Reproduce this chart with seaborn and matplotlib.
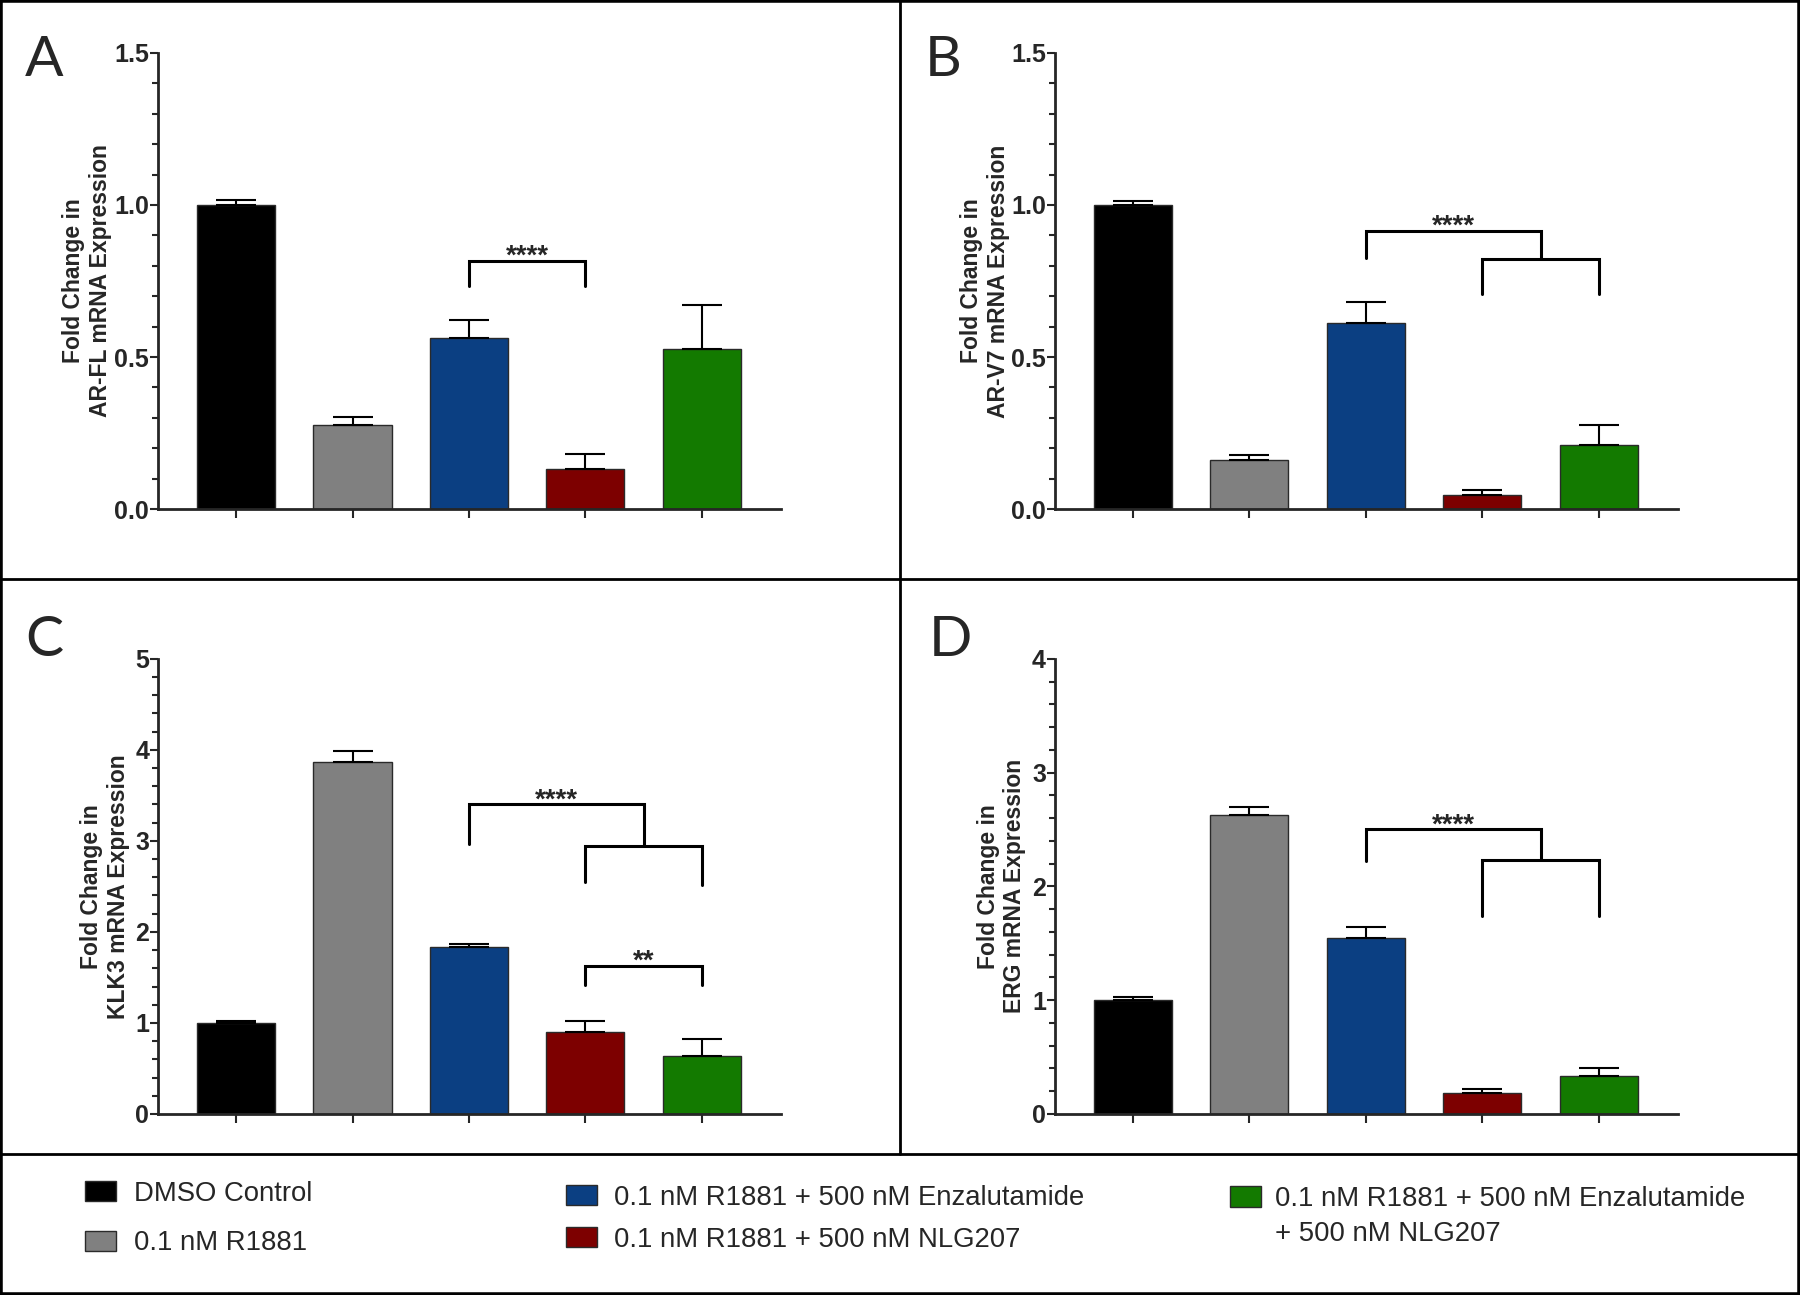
import numpy as np
import pandas as pd
import seaborn as sns
import matplotlib.pyplot as plt
from matplotlib.patches import Patch, Rectangle
from matplotlib.lines import Line2D
from matplotlib.ticker import MultipleLocator, FormatStrFormatter

sns.set_style("ticks")
plt.rcParams['font.family'] = ['Liberation Sans', 'DejaVu Sans']

groups = ["DMSO Control", "0.1 nM R1881", "0.1 nM R1881 + 500 nM Enzalutamide",
          "0.1 nM R1881 + 500 nM NLG207",
          "0.1 nM R1881 + 500 nM Enzalutamide\n+ 500 nM NLG207"]
colors = ["#000000", "#808080", "#0b3f82", "#7d0000", "#137a00"]

arfl_mean = [1.0, 0.275, 0.563, 0.131, 0.525]
arfl_sem = [0.016, 0.027, 0.060, 0.050, 0.145]
arv7_mean = [1.0, 0.160, 0.612, 0.045, 0.212]
arv7_sem = [0.013, 0.019, 0.068, 0.019, 0.064]
klk3_mean = [1.0, 3.87, 1.83, 0.905, 0.64]
klk3_sem = [0.025, 0.12, 0.04, 0.115, 0.18]
erg_mean = [1.0, 2.63, 1.55, 0.18, 0.33]
erg_sem = [0.025, 0.065, 0.09, 0.04, 0.07]

# brackets: (x1, x2, y, y_left_end, y_right_end, label)
arfl_sig = [(2, 3, 0.816, 0.733, 0.733, "****")]
arv7_sig = [(2, 3.5, 0.914, 0.827, 0.821, "****"), (3, 4, 0.821, 0.707, 0.707, "")]
klk3_sig = [(2, 3.5, 3.40, 2.96, 2.94, "****"), (3, 4, 2.94, 2.55, 2.51, ""),
            (3, 4, 1.63, 1.42, 1.42, "**")]
erg_sig = [(2, 3.5, 2.50, 2.22, 2.23, "****"), (3, 4, 2.23, 1.74, 1.74, "")]

panels = [
    ("A", "AR-FL", arfl_mean, arfl_sem, arfl_sig, 1.5, 0.5, 0.1, "%.1f"),
    ("B", "AR-V7", arv7_mean, arv7_sem, arv7_sig, 1.5, 0.5, 0.1, "%.1f"),
    ("C", "KLK3", klk3_mean, klk3_sem, klk3_sig, 5, 1, 0.2, "%d"),
    ("D", "ERG", erg_mean, erg_sem, erg_sig, 4, 1, 0.2, "%d"),
]
ax_pos = [[0.0878, 0.6069, 0.3461, 0.3522], [0.5861, 0.6069, 0.3461, 0.3522],
          [0.0878, 0.1398, 0.3461, 0.3515], [0.5861, 0.1398, 0.3461, 0.3515]]
letter_pos = [(0.014, 0.9413), (0.514, 0.9413), (0.014, 0.4934), (0.516, 0.4934)]
label_x = [-0.0745, -0.073, -0.045, -0.046]

fig = plt.figure(figsize=(18, 12.95), dpi=100)

for i, (letter, gene, mean, sem, sig, ymax, major, minor, fmt) in enumerate(panels):
    ax = fig.add_axes(ax_pos[i])
    df = pd.DataFrame({"group": groups, "value": mean})
    sns.barplot(data=df, x="group", y="value", hue="group", order=groups,
                hue_order=groups, palette=colors, saturation=1, width=0.67,
                edgecolor="#2a2a2a", linewidth=1.0, errorbar=None, legend=False, ax=ax)
    x = np.arange(len(mean))
    ax.errorbar(x, mean, yerr=[np.zeros(len(sem)), sem], fmt="none", ecolor="black",
                elinewidth=1.5, capsize=14.4, capthick=1.5, zorder=3)
    for (x1, x2, y, yl, yr, lab) in sig:
        ax.plot([x1, x1, x2, x2], [yl, y, y, yr], color="black", lw=2.2,
                solid_joinstyle="miter", clip_on=False)
        if lab:
            ax.annotate(lab, xy=((x1 + x2) / 2, y), xytext=(0, -2),
                        textcoords="offset points", ha="center", va="baseline",
                        fontsize=20, fontweight="bold")
    ax.set_xlim(-0.67, 4.68)
    ax.set_ylim(0, ymax)
    ax.yaxis.set_major_locator(MultipleLocator(major))
    ax.yaxis.set_minor_locator(MultipleLocator(minor))
    ax.yaxis.set_major_formatter(FormatStrFormatter(fmt))
    ax.set_xticks(x)
    ax.set_xticklabels([])
    ax.set_xlabel("")
    sns.despine(ax=ax)
    for s in ["left", "bottom"]:
        ax.spines[s].set_linewidth(2.0)
    ax.tick_params(axis="y", which="major", length=5.5, width=1.5, pad=1,
                   labelsize=18)
    ax.tick_params(axis="y", which="minor", length=4, width=1.5)
    ax.tick_params(axis="x", which="major", length=6.5, width=1.5)
    for t in ax.get_yticklabels():
        t.set_fontweight("bold")
    ax.set_ylabel("Fold Change in\n%s mRNA Expression" % gene, fontsize=16.5,
                  fontweight="bold", linespacing=1.2)
    ax.yaxis.set_label_coords(label_x[i], 0.5)
    fig.text(letter_pos[i][0], letter_pos[i][1], letter, fontsize=41,
             family="Lato", va="baseline", ha="left")

# frame and dividers
fig.add_artist(Rectangle((0, 0), 1, 1, transform=fig.transFigure, fill=False,
                         lw=4, edgecolor="black"))
fig.add_artist(Line2D([0.5, 0.5], [0.1091, 1], transform=fig.transFigure,
                      color="black", lw=2))
fig.add_artist(Line2D([0, 1], [0.5532, 0.5532], transform=fig.transFigure,
                      color="black", lw=2))
fig.add_artist(Line2D([0, 1], [0.1091, 0.1091], transform=fig.transFigure,
                      color="black", lw=2))

# legend
handles = [Patch(facecolor=c, edgecolor="#2a2a2a", lw=1) for c in colors]
blank = Patch(facecolor="none", edgecolor="none")
leg_kw = dict(loc="center left", frameon=False, fontsize=19.8, handlelength=1.12,
              handleheight=0.77, borderpad=0, borderaxespad=0)
leg1 = fig.legend(handles[:2], groups[:2], bbox_to_anchor=(0.0472, 0.0590),
                  handletextpad=0.65, labelspacing=0.86, **leg_kw)
leg2 = fig.legend(handles[2:4], groups[2:4], bbox_to_anchor=(0.3144, 0.0590),
                  handletextpad=0.62, labelspacing=0.58, **leg_kw)
leg3 = fig.legend([handles[4], blank], groups[4].split("\n"),
                  bbox_to_anchor=(0.6833, 0.0605), handletextpad=0.51,
                  labelspacing=0.34, **leg_kw)

fig.savefig("out.png", dpi=100)
